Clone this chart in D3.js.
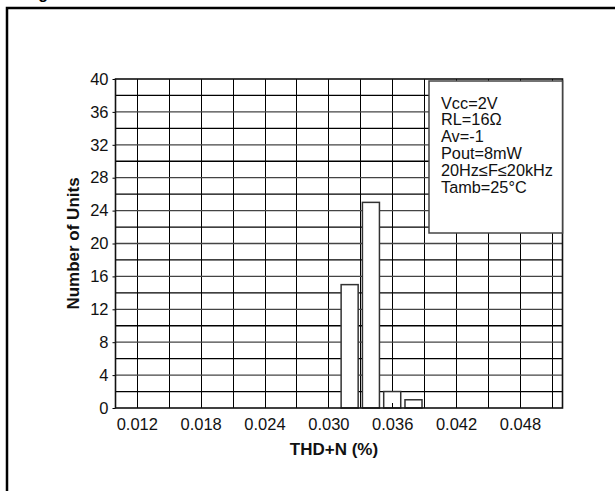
<!DOCTYPE html>
<html>
<head>
<meta charset="utf-8">
<script src="https://cdn.jsdelivr.net/npm/d3@7"></script>
<style>
  body { margin: 0; background: #fff; }
  svg { display: block; font-family: "Liberation Sans", Arial, Helvetica, sans-serif; }
</style>
</head>
<body>
<div id="vis"></div>
<script>
// histogram data
var binCenters = [0.032, 0.034, 0.036, 0.038];
var unitCounts = [15, 25, 2, 1];
var binWidth = 0.0016;

// tick labels
var xTickValues = [0.012, 0.018, 0.024, 0.030, 0.036, 0.042, 0.048];
var yTickValues = [0, 4, 8, 12, 16, 20, 24, 28, 32, 36, 40];

// condition box text
var legendLines = ['Vcc=2V', 'RL=16\u03A9', 'Av=-1', 'Pout=8mW', '20Hz\u2264F\u226420kHz', 'Tamb=25\u00B0C'];

var width = 615;
var height = 491;
var margin = { top: 79, left: 115.5, bottom: 83, right: 52.5 };

var svg = d3.select('#vis').append('svg')
  .attr('width', width)
  .attr('height', height);

// page frame, partly cut off like the scanned figure
svg.append('rect')
  .attr('x', 7).attr('y', 8)
  .attr('width', 700).attr('height', 600)
  .attr('fill', 'none')
  .attr('stroke', '#000')
  .attr('stroke-width', 2.5);

// caption cut at the top edge, only the descender is left
svg.append('text')
  .attr('x', 24).attr('y', -1)
  .attr('font-size', 16)
  .attr('font-weight', 'bold')
  .text('Figure');

var x = d3.scaleLinear()
  .domain([0.010, 0.052])
  .range([margin.left, width - margin.right]);

var y = d3.scaleLinear()
  .domain([0, 40])
  .range([height - margin.bottom, margin.top]);

var g = svg.append('g');

// grid every 0.003 on x and every 2 units on y
var xGrid = d3.range(0, 14).map(function (k) { return 0.012 + k * 0.003; });
var yGrid = d3.range(2, 40, 2);

g.selectAll('.vgrid')
  .data(xGrid)
  .enter().append('line')
  .attr('class', 'vgrid')
  .attr('x1', function (d) { return Math.round(x(d)) + 0.5; })
  .attr('x2', function (d) { return Math.round(x(d)) + 0.5; })
  .attr('y1', y(0)).attr('y2', y(40))
  .attr('stroke', '#000').attr('stroke-width', 1);

g.selectAll('.hgrid')
  .data(yGrid)
  .enter().append('line')
  .attr('class', 'hgrid')
  .attr('x1', x(0.010)).attr('x2', x(0.052))
  .attr('y1', function (d) { return y(d); })
  .attr('y2', function (d) { return y(d); })
  .attr('stroke', function (d) { return d % 4 === 0 ? '#444' : '#000'; })
  .attr('stroke-width', 1.3);

// bars
g.selectAll('.bar')
  .data(binCenters)
  .enter().append('rect')
  .attr('class', 'bar')
  .attr('x', function (d) { return x(d - binWidth / 2); })
  .attr('width', function (d) { return x(d + binWidth / 2) - x(d - binWidth / 2); })
  .attr('y', function (d, i) { return y(unitCounts[i]); })
  .attr('height', function (d, i) { return y(0) - y(unitCounts[i]); })
  .attr('fill', '#fff')
  .attr('stroke', '#333')
  .attr('stroke-width', 1.5);

// inward ticks drawn over the bars
g.selectAll('.xtick')
  .data(xTickValues)
  .enter().append('line')
  .attr('x1', function (d) { return Math.round(x(d)) + 0.5; })
  .attr('x2', function (d) { return Math.round(x(d)) + 0.5; })
  .attr('y1', y(0)).attr('y2', y(0) - 5)
  .attr('stroke', '#000');

// axes
var xAxis = d3.axisBottom(x)
  .tickValues(xTickValues)
  .tickFormat(d3.format('.3f'))
  .tickSize(0)
  .tickPadding(10);

var yAxis = d3.axisLeft(y)
  .tickValues(yTickValues)
  .tickFormat(d3.format('d'))
  .tickSize(3)
  .tickPadding(4);

var xg = svg.append('g')
  .attr('transform', 'translate(0,' + y(0) + ')')
  .call(xAxis);

var yg = svg.append('g')
  .attr('transform', 'translate(' + x(0.010) + ',0)')
  .call(yAxis);

[xg, yg].forEach(function (ax) {
  ax.select('.domain').remove();
  ax.selectAll('text')
    .attr('font-size', 16.5)
    .attr('font-family', '"Liberation Sans", Arial, sans-serif')
    .attr('fill', '#111');
  ax.selectAll('line').attr('stroke', '#000');
});

// plot border
svg.append('rect')
  .attr('x', x(0.010)).attr('y', y(40))
  .attr('width', x(0.052) - x(0.010))
  .attr('height', y(0) - y(40))
  .attr('fill', 'none')
  .attr('stroke', '#111')
  .attr('stroke-width', 1.6);

// condition box
var box = svg.append('g');
box.append('rect')
  .attr('x', 429).attr('y', 81)
  .attr('width', x(0.052) - 429)
  .attr('height', 152)
  .attr('fill', '#fff')
  .attr('stroke', '#444')
  .attr('stroke-width', 1.5);

box.selectAll('text')
  .data(legendLines)
  .enter().append('text')
  .attr('x', 441)
  .attr('y', function (d, i) { return 108.5 + i * 16.8; })
  .attr('font-size', 16.3)
  .attr('fill', '#111')
  .text(function (d) { return d; });

// axis titles
svg.append('text')
  .attr('x', 334)
  .attr('y', 455)
  .attr('text-anchor', 'middle')
  .attr('font-size', 17)
  .attr('font-weight', 'bold')
  .attr('fill', '#111')
  .text('THD+N (%)');

svg.append('text')
  .attr('transform', 'translate(79,' + y(20) + ') rotate(-90)')
  .attr('text-anchor', 'middle')
  .attr('font-size', 17)
  .attr('font-weight', 'bold')
  .attr('fill', '#111')
  .text('Number of Units');
</script>
</body>
</html>
